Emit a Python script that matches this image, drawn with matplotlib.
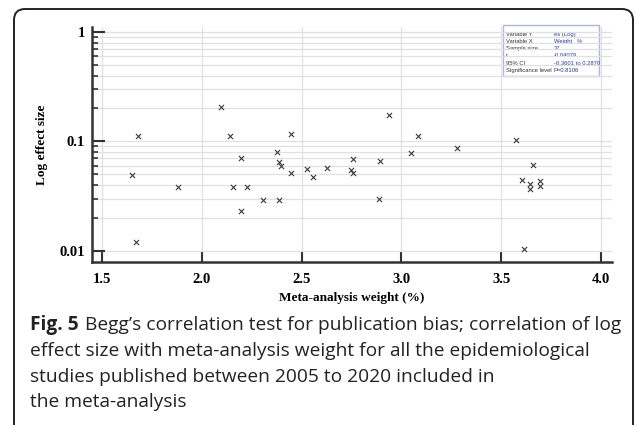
import numpy as np
import matplotlib
matplotlib.use("Agg")
import matplotlib.pyplot as plt
from matplotlib.patches import FancyBboxPatch, Rectangle
from matplotlib.ticker import FixedLocator, NullFormatter


# Meta-analysis weight (%) and effect size for each study
weight = [1.652, 1.678, 1.670, 1.882, 2.098, 2.140, 2.198, 2.157, 2.227, 2.198,
          2.307, 2.387, 2.377, 2.387, 2.398, 2.448, 2.448, 2.527, 2.557, 2.628,
          2.757, 2.745, 2.757, 2.895, 2.887, 2.937, 3.085, 3.047, 3.277, 3.575,
          3.657, 3.605, 3.645, 3.645, 3.695, 3.695, 3.615]
effect = [0.0488, 0.112, 0.0120, 0.0379, 0.208, 0.111, 0.0702, 0.0379, 0.0380, 0.0232,
          0.0292, 0.0292, 0.0807, 0.0646, 0.0601, 0.116, 0.0519, 0.0561, 0.0477, 0.0577,
          0.0697, 0.0553, 0.0516, 0.0659, 0.0300, 0.175, 0.112, 0.0791, 0.0878, 0.103,
          0.0610, 0.0443, 0.0405, 0.0366, 0.0433, 0.0392, 0.0104]

x_ticks = [1.5, 2.0, 2.5, 3.0, 3.5, 4.0]
x_ticklabels = ["1.5", "2.0", "2.5", "3.0", "3.5", "4.0"]
y_ticks = [0.01, 0.1, 1]
y_ticklabels = ["0.01", "0.1", "1"]

stat_names = ["Variable Y", "Variable X", "Sample size", "r", "95% CI", "Significance level"]
stat_values = ["es (Log)", "Weight _%_", "37", "-0.04079", "-0.3601 to 0.2870", "P=0.8106"]

caption_lines = [
    "Begg\u2019s correlation test for publication bias; correlation of log",
    "effect size with meta-analysis weight for all the epidemiological",
    "studies published between 2005 to 2020 included in",
    "the meta-analysis",
]

W, H = 635, 425
fig = plt.figure(figsize=(W / 100, H / 100), dpi=100)

# pixel-space overlay for frame, stats box and caption
bg = fig.add_axes([0, 0, 1, 1])
bg.set_xlim(0, W)
bg.set_ylim(H, 0)
bg.axis("off")
bg.add_patch(FancyBboxPatch((14, 9), 619, 440, boxstyle="round,pad=0,rounding_size=11",
                            fill=False, lw=1.4, ec="#222222", zorder=1))

# scatter axes
ax = fig.add_axes([92 / W, (H - 262) / H, (612 - 92) / W, (262 - 27) / H], zorder=2)
ax.patch.set_alpha(0)
ax.scatter(weight, effect, marker="x", s=14, c="#3a3a3a", linewidths=0.8, zorder=3)
ax.set_yscale("log")
ax.set_xlim(1.45, 4.055)
ax.set_ylim(0.0079, 1.11)

for s in ["top", "right"]:
    ax.spines[s].set_visible(False)
for s in ["left", "bottom"]:
    ax.spines[s].set_linewidth(1.8)
    ax.spines[s].set_color("#333333")

serif = "Liberation Serif"
ax.xaxis.set_major_locator(FixedLocator(x_ticks))
ax.set_xticklabels(x_ticklabels, fontfamily=serif, fontweight="bold", fontsize=10.5)
ax.yaxis.set_major_locator(FixedLocator(y_ticks))
ax.yaxis.set_minor_locator(FixedLocator([m * d for d in [0.01, 0.1] for m in range(2, 10)]))
ax.yaxis.set_minor_formatter(NullFormatter())
ax.set_yticklabels(y_ticklabels, fontfamily=serif, fontweight="bold", fontsize=10.5)
ax.tick_params(axis="x", direction="in", length=7, width=1.5, color="#333333", pad=8)
ax.tick_params(axis="y", which="major", direction="in", length=9, width=1.5, color="#333333", pad=5)
ax.tick_params(axis="y", which="minor", direction="in", length=4, width=1.2, color="#333333")

ax.grid(True, which="major", axis="x", color="#e0e0e0", lw=0.9)
ax.grid(True, which="both", axis="y", color="#e0e0e0", lw=0.9)
ax.set_axisbelow(True)

ax.set_xlabel("Meta-analysis weight (%)", fontfamily=serif, fontweight="bold", fontsize=9.5, labelpad=4)
ax.set_ylabel("Log effect size", fontfamily=serif, fontweight="bold", fontsize=9.5, labelpad=8)

# statistics box
bg.add_patch(Rectangle((503, 25), 96, 51, fc="white", ec="#a9b9d9", lw=1.0, zorder=4))
for i, (name, val) in enumerate(zip(stat_names, stat_values)):
    yy = 34 + i * 7.3
    bg.text(506, yy, name, fontsize=4.2, color="#333333", va="center", zorder=5,
            fontfamily="Liberation Sans")
    bg.text(554, yy, val, fontsize=4.2, color="#2a3a9a", va="center", zorder=5,
            fontfamily="Liberation Sans")

# caption
cap_font = "Open Sans"
cap_size = 13.8
bg.text(30, 325, "Fig. 5", fontsize=cap_size, fontweight="bold", color="#222222",
        va="center", fontfamily=cap_font)
bg.text(85, 325, caption_lines[0], fontsize=cap_size, color="#222222", va="center", fontfamily=cap_font)
for i, line in enumerate(caption_lines[1:]):
    bg.text(30, 351 + i * 25.5, line, fontsize=cap_size, color="#222222", va="center", fontfamily=cap_font)

fig.savefig("out.png", dpi=100)
